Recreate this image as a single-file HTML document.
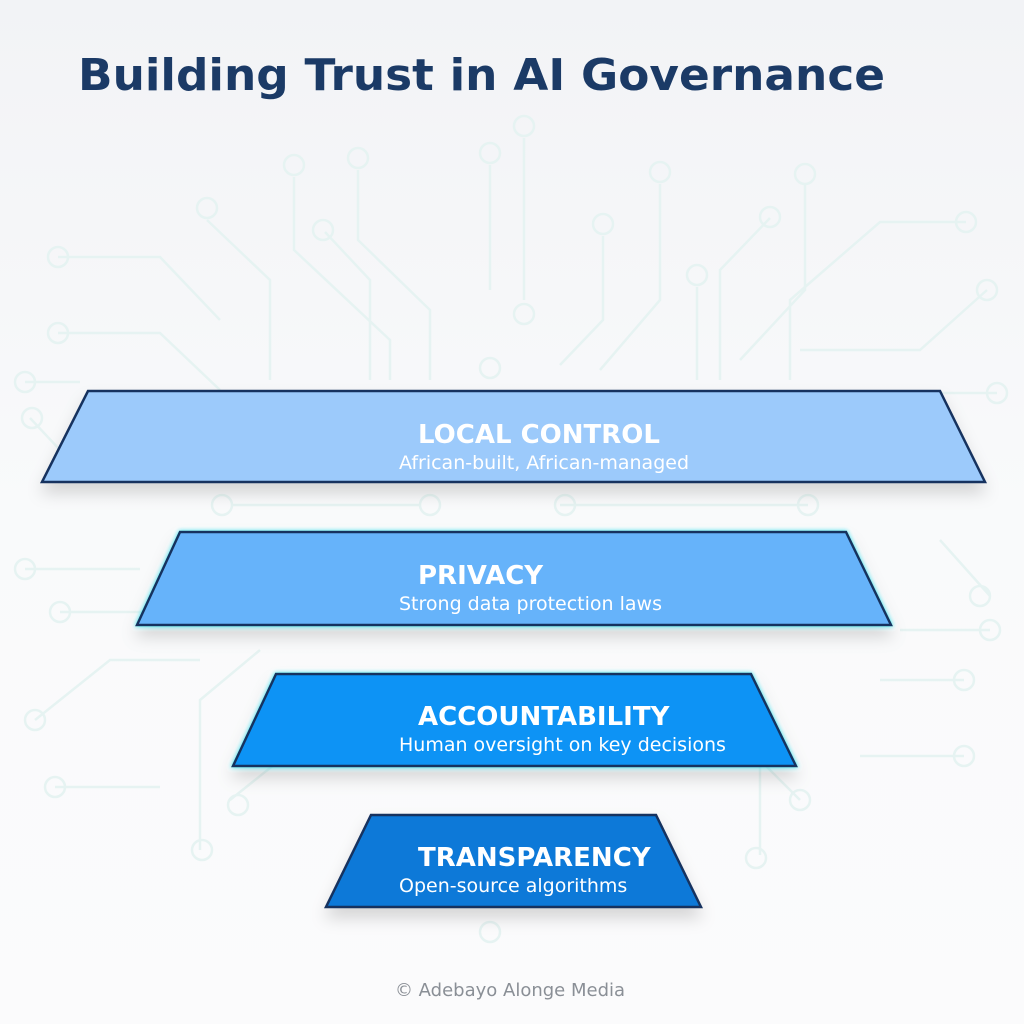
<!DOCTYPE html>
<html><head><meta charset="utf-8"><style>
html,body{margin:0;padding:0;background:#f7f8fa}
svg{display:block}
text{font-family:"DejaVu Sans","Liberation Sans",sans-serif}
</style></head><body>
<svg width="1024" height="1024" viewBox="0 0 1024 1024" xmlns="http://www.w3.org/2000/svg">
<defs>
<linearGradient id="bg" x1="0" y1="0" x2="0" y2="1"><stop offset="0" stop-color="#f2f3f6"/><stop offset="0.5" stop-color="#f9fafb"/><stop offset="1" stop-color="#fbfbfc"/></linearGradient>
<filter id="sh" x="-10%" y="-20%" width="120%" height="160%"><feDropShadow dx="0" dy="10" stdDeviation="8" flood-color="#000" flood-opacity="0.15"/></filter>
<filter id="glow" x="-10%" y="-20%" width="120%" height="160%"><feDropShadow dx="0" dy="0" stdDeviation="2" flood-color="#1de0f0" flood-opacity="0.9"/><feDropShadow dx="0" dy="10" stdDeviation="8" flood-color="#000" flood-opacity="0.15"/></filter>
</defs>
<rect width="1024" height="1024" fill="url(#bg)"/>
<g fill="none" stroke="#e6f3f2" stroke-width="2.5">
<path d="M524 138V300M490 165V290M358 170V240L430 310V380M294 177V250L390 340V380M207 220L270 280V380M325 232L370 280V380M660 184V300L600 370M603 236V320L560 365M697 287V380M770 218L720 270V380M805 185V290L740 360M966 222H880L790 300V380M987 290L920 350H800M58 257H160L220 320M58 333H160L220 390M25 382H80M30 418L60 450M997 393H900"/>
<circle cx="524" cy="126" r="10"/><circle cx="490" cy="153" r="10"/><circle cx="358" cy="158" r="10"/><circle cx="294" cy="165" r="10"/><circle cx="207" cy="208" r="10"/><circle cx="323" cy="230" r="10"/><circle cx="660" cy="172" r="10"/><circle cx="603" cy="224" r="10"/><circle cx="697" cy="275" r="10"/><circle cx="770" cy="217" r="10"/><circle cx="805" cy="174" r="10"/><circle cx="966" cy="222" r="10"/><circle cx="987" cy="290" r="10"/><circle cx="58" cy="257" r="10"/><circle cx="58" cy="333" r="10"/><circle cx="25" cy="382" r="10"/><circle cx="32" cy="418" r="10"/><circle cx="997" cy="393" r="10"/><circle cx="490" cy="368" r="10"/><circle cx="524" cy="314" r="10"/>
<path d="M232 505H420M560 505H808M25 569H140M60 612H150M35 720L110 660H200M55 787H160M990 596L940 540M990 630H900M964 680H880M964 756H860M800 800L760 760M230 800L280 760M200 850V700L260 650M760 855V700"/>
<circle cx="222" cy="505" r="10"/><circle cx="430" cy="505" r="10"/><circle cx="565" cy="505" r="10"/><circle cx="808" cy="505" r="10"/><circle cx="25" cy="569" r="10"/><circle cx="60" cy="612" r="10"/><circle cx="35" cy="720" r="10"/><circle cx="55" cy="787" r="10"/><circle cx="980" cy="596" r="10"/><circle cx="990" cy="630" r="10"/><circle cx="964" cy="680" r="10"/><circle cx="964" cy="756" r="10"/><circle cx="800" cy="800" r="10"/><circle cx="238" cy="805" r="10"/><circle cx="202" cy="850" r="10"/><circle cx="756" cy="858" r="10"/><circle cx="490" cy="932" r="10"/>
</g>
<text x="78" y="90" font-size="44" font-weight="bold" fill="#1b3a66" textLength="807" lengthAdjust="spacingAndGlyphs">Building Trust in AI Governance</text>

<polygon points="88,391 940,391 985,482 42,482" fill="#9ccafb" stroke="#14325e" stroke-width="2.5" filter="url(#sh)"/>
<text x="418" y="443" font-size="26" font-weight="bold" fill="#fff">LOCAL CONTROL</text>
<text x="399" y="469" font-size="19" fill="#fff">African-built, African-managed</text>

<polygon points="180,532 846,532 891,625 137,625" fill="#66b3fa" stroke="#14325e" stroke-width="2.5" filter="url(#glow)"/>
<text x="418" y="584" font-size="26" font-weight="bold" fill="#fff">PRIVACY</text>
<text x="399" y="610" font-size="19" fill="#fff">Strong data protection laws</text>

<polygon points="276,674 751,674 796,766 233,766" fill="#0a93f5" stroke="#14325e" stroke-width="2.5" filter="url(#glow)"/>
<text x="418" y="725" font-size="26" font-weight="bold" fill="#fff">ACCOUNTABILITY</text>
<text x="399" y="751" font-size="19" fill="#fff">Human oversight on key decisions</text>

<polygon points="371,815 656,815 701,907 326,907" fill="#0b79d8" stroke="#14325e" stroke-width="2.5" filter="url(#sh)"/>
<text x="418" y="866" font-size="26" font-weight="bold" fill="#fff">TRANSPARENCY</text>
<text x="399" y="892" font-size="19" fill="#fff">Open-source algorithms</text>

<text x="510" y="996" font-size="18" fill="#8a8f96" text-anchor="middle">© Adebayo Alonge Media</text>
</svg>
</body></html>
